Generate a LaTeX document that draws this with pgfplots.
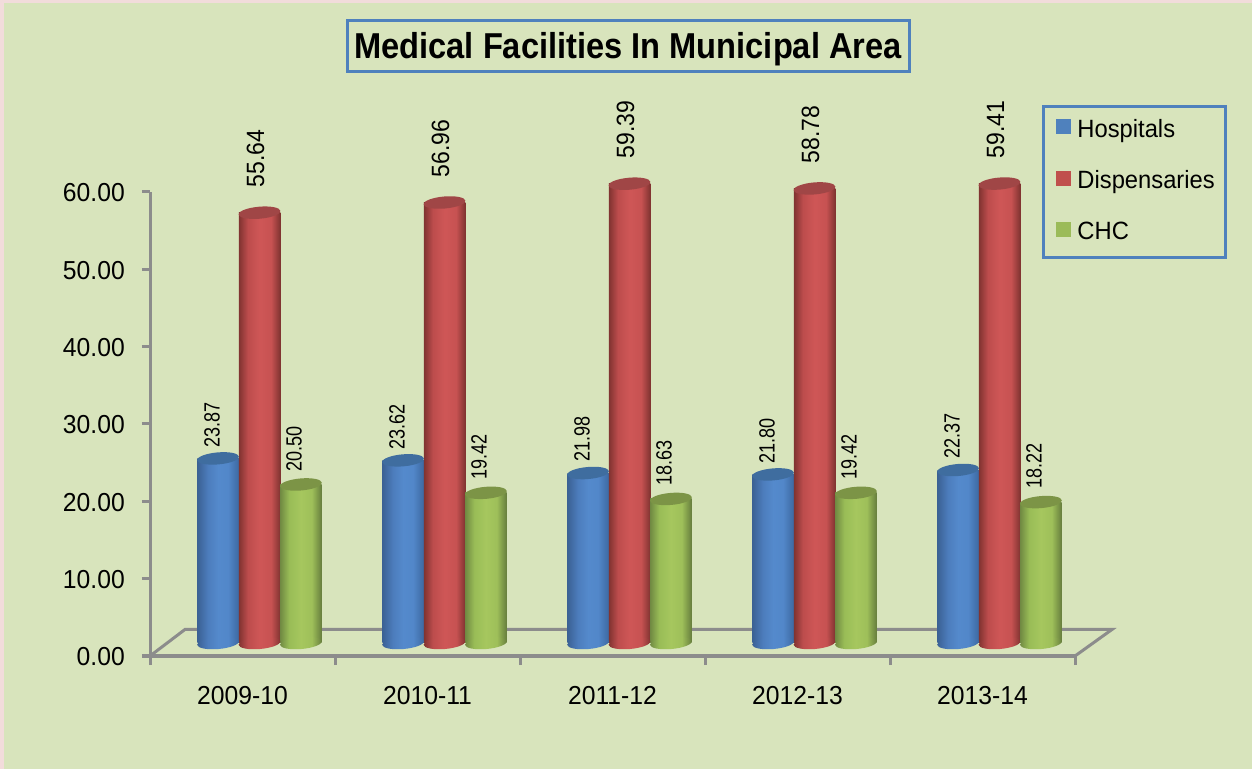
\documentclass[border=0pt]{standalone}
\usepackage{pgfplots}
\usepackage{pgfplotstable}
\usepackage{fontspec}
\pgfplotsset{compat=1.18}
\setmainfont{Liberation Sans}[FakeStretch=0.95]
\newfontfamily\titlefont{Liberation Sans}[FakeStretch=0.906]
\newfontfamily\lblsmall{Liberation Sans}[FakeStretch=0.82]
\newfontfamily\lblbig{Liberation Sans}[FakeStretch=0.92]
\definecolor{bgpage}{HTML}{D8E4BC}
\definecolor{bgpink}{HTML}{F2DCDB}
\definecolor{boxblue}{HTML}{4F81BD}
\definecolor{axgray}{HTML}{8C8C8C}
\definecolor{legb}{HTML}{4F81BD}
\definecolor{legr}{HTML}{C0504D}
\definecolor{legg}{HTML}{9BBB59}
\definecolor{topb}{HTML}{3F6D9F}
\definecolor{topr}{HTML}{A04646}
\definecolor{topg}{HTML}{7C9446}
\pgfdeclarehorizontalshading{cylb}{100bp}{rgb(0bp)=(0.23,0.38,0.58);rgb(25bp)=(0.23,0.38,0.58);rgb(38bp)=(0.30,0.49,0.74);rgb(50bp)=(0.33,0.54,0.80);rgb(62bp)=(0.32,0.53,0.79);rgb(75bp)=(0.24,0.41,0.63);rgb(100bp)=(0.24,0.41,0.63)}
\pgfdeclarehorizontalshading{cylr}{100bp}{rgb(0bp)=(0.50,0.20,0.19);rgb(25bp)=(0.50,0.20,0.19);rgb(36bp)=(0.74,0.30,0.30);rgb(50bp)=(0.81,0.34,0.34);rgb(64bp)=(0.78,0.32,0.32);rgb(75bp)=(0.50,0.20,0.19);rgb(100bp)=(0.50,0.20,0.19)}
\pgfdeclarehorizontalshading{cylg}{100bp}{rgb(0bp)=(0.44,0.54,0.26);rgb(25bp)=(0.44,0.54,0.26);rgb(36bp)=(0.60,0.74,0.34);rgb(50bp)=(0.65,0.78,0.37);rgb(63bp)=(0.62,0.75,0.35);rgb(75bp)=(0.40,0.49,0.24);rgb(100bp)=(0.40,0.49,0.24)}
\newcommand\ellpath{\pgfpathellipse{\pgfpointorigin}{\pgfpoint{20.9bp}{1.8bp}}{\pgfpoint{-0.5bp}{6bp}}}
\pgfdeclareplotmark{capb}{\ellpath\pgfsetfillcolor{topb}\pgfusepath{fill}}
\pgfdeclareplotmark{capr}{\ellpath\pgfsetfillcolor{topr}\pgfusepath{fill}}
\pgfdeclareplotmark{capg}{\ellpath\pgfsetfillcolor{topg}\pgfusepath{fill}}
\pgfdeclareplotmark{baseb}{\ellpath\pgfshadepath{cylb}{0}\pgfusepath{discard}}
\pgfdeclareplotmark{baser}{\ellpath\pgfshadepath{cylr}{0}\pgfusepath{discard}}
\pgfdeclareplotmark{baseg}{\ellpath\pgfshadepath{cylg}{0}\pgfusepath{discard}}
\pgfplotstableread{
x    hosp   disp   chc
0.5  23.87  55.64  20.50
1.5  23.62  56.96  19.42
2.5  21.98  59.39  18.63
3.5  21.80  58.78  19.42
4.5  22.37  59.41  18.22
}\datatable
% one shaded bar: #1 column, #2 x offset, #3 suffix, #4 row to keep, #5 row after it
\newcommand\onebar[5]{%
  \addplot[ybar, bar width=41.5bp, bar shift=0pt, draw=none, shade, shading=cyl#3, xshift=17bp, yshift=13bp, forget plot,
    skip coords between index={0}{#4}, skip coords between index={#5}{5}]
    table[x expr=\thisrow{x}+#2, y=#1] {\datatable};
}
% #1 column, #2 x offset, #3 suffix, #4 legend name, #5 label font, #6 label gap, #7 label x offset
\newcommand\cyl[7]{%
  \addplot[only marks, mark=base#3, xshift=17bp, yshift=13bp, forget plot]
    table[x expr=\thisrow{x}+#2, y expr=0] {\datatable};
  \onebar{#1}{#2}{#3}{0}{1}
  \onebar{#1}{#2}{#3}{1}{2}
  \onebar{#1}{#2}{#3}{2}{3}
  \onebar{#1}{#2}{#3}{3}{4}
  \onebar{#1}{#2}{#3}{4}{5}
  \addlegendimage{legend image code/.code={\path[draw=none] (2bp,-9.5bp) rectangle (17bp,7.5bp);\fill[leg#3,draw=none,overlay] (4bp,-2bp) rectangle (19bp,13bp);}}
  \addlegendentry{#4}
  \addplot[only marks, mark=cap#3, xshift=17bp, yshift=13bp, forget plot,
    nodes near coords={\pgfmathprintnumber[fixed, fixed zerofill, precision=2, assume math mode=true]{\pgfplotspointmeta}},
    every node near coord/.style={yshift=#6, xshift=#7, rotate=90, anchor=west, inner sep=0pt, font=#5, text=black}]
    table[x expr=\thisrow{x}+#2, y=#1] {\datatable};
}
\begin{document}
\begin{tikzpicture}
\useasboundingbox (0bp,0bp) rectangle (1252bp,769bp);
\fill[bgpink] (0bp,0bp) rectangle (1252bp,769bp);
\fill[bgpage] (4bp,0bp) rectangle (1252bp,766bp);
\begin{axis}[
  at={(150bp,113bp)}, anchor=south west,
  scale only axis, width=925bp, height=464bp,
  xmin=0, xmax=5, ymin=0, ymax=60,
  clip=false,
  axis lines=left,
  axis line style={-, axgray, line width=3bp},
  tick style={axgray, line width=3bp},
  tick align=outside,
  xtick={0.5,1.5,2.5,3.5,4.5},
  xticklabels={2009-10,2010-11,2011-12,2012-13,2013-14},
  minor xtick={0,1,2,3,4,5},
  major x tick style={draw=none},
  minor tick length=9bp,
  major tick length=8bp,
  ytick={0,10,20,30,40,50,60},
  yticklabel style={/pgf/number format/fixed, /pgf/number format/fixed zerofill, /pgf/number format/precision=2, /pgf/number format/assume math mode=true, font=\fontsize{26bp}{28bp}\selectfont, inner sep=0pt, xshift=-17bp, yshift=-1bp},
  xticklabel style={font=\fontsize{26bp}{28bp}\selectfont, inner sep=0pt, yshift=-22bp},
  title={\titlefont\bfseries\fontsize{36bp}{40bp}\selectfont Medical Facilities In Municipal Area},
  title style={at={(0.5168,1.3018)}, anchor=center, draw=boxblue, line width=3bp, minimum width=562bp, text height=38bp, text depth=13bp, inner sep=0pt},
  legend style={at={(0.9643,1.1875)}, anchor=north west, draw=boxblue, line width=3bp, fill=none,
    font=\fontsize{25bp}{28bp}\selectfont, row sep=29bp, inner xsep=11bp, inner ysep=13bp,
    nodes={inner sep=0pt, yshift=3bp}, /tikz/column 1/.style={column sep=8bp}},
  legend cell align=left,
]
\addplot[axgray, line width=3bp, forget plot] coordinates {(0,0) (0.189,3.43) (5.2,3.43) (5,0)};
\cyl{hosp}{-0.224}{b}{Hospitals}{\lblsmall\fontsize{22bp}{24bp}\selectfont}{11bp}{-6bp}
\cyl{disp}{0}{r}{Dispensaries}{\lblbig\fontsize{25bp}{28bp}\selectfont}{25bp}{-4bp}
\cyl{chc}{0.224}{g}{CHC}{\lblsmall\fontsize{22bp}{24bp}\selectfont}{13bp}{-7bp}
\end{axis}
\end{tikzpicture}
\end{document}
